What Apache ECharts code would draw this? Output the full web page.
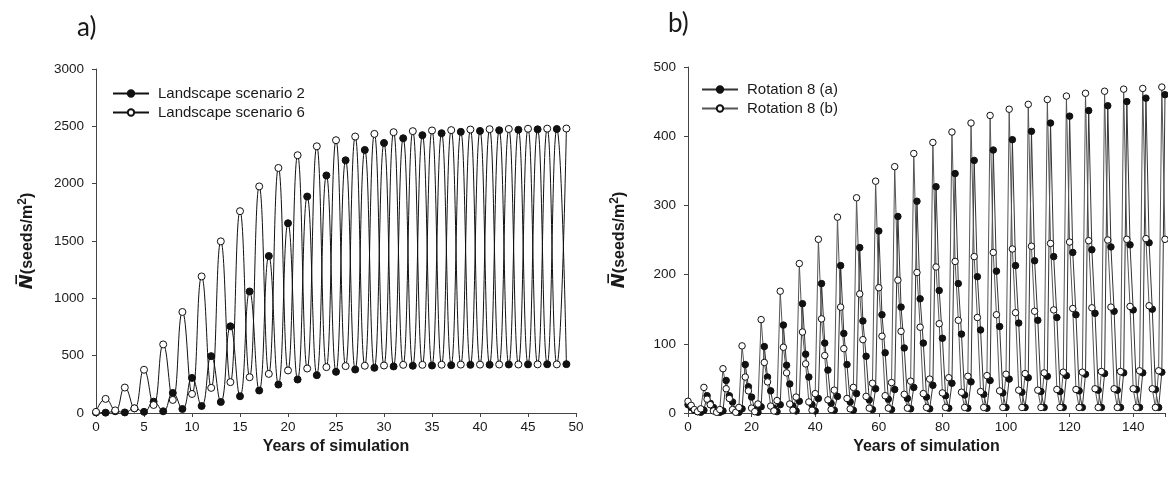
<!DOCTYPE html>
<html><head><meta charset="utf-8">
<script src="https://cdn.jsdelivr.net/npm/echarts/dist/echarts.min.js"></script>
<style>html,body{margin:0;padding:0;background:#fff}#c{width:1168px;height:477px}</style>
</head><body><div id="c"></div>
<script>
// Panel a: years 0..49
const scenario2 = [5, 3, 15, 5, 40, 10, 99, 15, 175, 35, 306, 61, 496, 96, 756, 146, 1060, 196, 1369, 248, 1655, 292, 1888, 330, 2072, 359, 2204, 379, 2294, 394, 2355, 406, 2396, 412, 2423, 414, 2440, 417, 2452, 420, 2460, 421, 2466, 423, 2470, 424, 2474, 425, 2477, 426];
const scenario6 = [10, 123, 23, 222, 41, 377, 70, 598, 114, 881, 166, 1191, 219, 1497, 269, 1760, 312, 1976, 341, 2137, 371, 2248, 388, 2326, 400, 2379, 409, 2411, 412, 2434, 414, 2449, 420, 2458, 420, 2464, 421, 2467, 422, 2472, 422, 2475, 423, 2477, 423, 2479, 424, 2480, 424, 2481];
// Panel b: years 0..150
const rotation8a = [12, 8, 4, 2, 1, 4,
  25, 14, 8, 2, 1, 3,
  47, 25, 16, 4, 1, 6,
  70, 38, 23, 5, 1, 9,
  96, 52, 32, 7, 2, 12,
  127, 69, 42, 10, 3, 17,
  158, 85, 52, 12, 3, 21,
  187, 101, 62, 14, 4, 24,
  213, 115, 70, 16, 4, 28,
  239, 133, 82, 19, 5, 35,
  263, 142, 87, 20, 5, 34,
  284, 153, 94, 21, 6, 37,
  306, 165, 101, 23, 6, 40,
  327, 177, 108, 25, 7, 43,
  346, 187, 114, 26, 7, 45,
  365, 197, 120, 27, 7, 47,
  380, 205, 125, 29, 8, 49,
  395, 213, 130, 30, 8, 51,
  407, 220, 134, 31, 8, 53,
  419, 226, 138, 31, 8, 54,
  429, 232, 142, 32, 8, 56,
  437, 236, 144, 33, 8, 57,
  444, 240, 147, 33, 8, 58,
  450, 243, 149, 34, 8, 58,
  455, 246, 150, 34, 8, 59,
  460];
const rotation8b = [17, 11, 5, 2, 6,
  37, 20, 12, 3, 1, 5,
  64, 35, 21, 5, 1, 8,
  97, 52, 32, 7, 2, 13,
  135, 73, 45, 10, 3, 18,
  176, 95, 58, 13, 4, 23,
  216, 117, 71, 16, 4, 28,
  251, 136, 83, 19, 5, 33,
  283, 153, 93, 21, 6, 37,
  311, 172, 106, 24, 7, 43,
  335, 181, 111, 25, 7, 44,
  356, 192, 118, 27, 7, 46,
  375, 203, 124, 28, 8, 49,
  391, 211, 129, 29, 8, 51,
  406, 219, 134, 30, 8, 53,
  419, 226, 138, 31, 8, 54,
  430, 232, 142, 32, 8, 56,
  439, 237, 145, 33, 8, 57,
  446, 241, 147, 33, 8, 58,
  453, 245, 149, 34, 8, 59,
  458, 247, 151, 34, 8, 59,
  462, 249, 152, 35, 8, 60,
  465, 250, 153, 35, 8, 60,
  468, 251, 154, 35, 8, 61,
  469, 252, 155, 35, 8, 61,
  471, 251];
const legendA = ['Landscape scenario 2', 'Landscape scenario 6'];
const legendB = ['Rotation 8 (a)', 'Rotation 8 (b)'];
const xTitle = 'Years of simulation';

const pairs = arr => arr.map((v, i) => [i, v]);
const FONT = 'Liberation Sans, Arial, sans-serif';
const ink = '#1a1a1a';
const axisCol = '#444';

const yNameText = '{n|N\u0305}{t|(seeds/m}{s|2}{t|)}';
const yNameStyle = {
  color: ink,
  rich: {
    n: {fontFamily: 'DejaVu Sans', fontWeight: 'bold', fontStyle: 'italic', fontSize: 18, color: ink},
    t: {fontFamily: FONT, fontWeight: 'bold', fontSize: 16, color: ink},
    s: {fontFamily: FONT, fontWeight: 'bold', fontSize: 12, color: ink, padding: [0, 0, 9, 0]}
  }
};

function xAxisCfg(idx, max, interval) {
  return {
    type: 'value', gridIndex: idx, min: 0, max: max, interval: interval,
    name: xTitle, nameLocation: 'middle', nameGap: 26,
    nameTextStyle: {fontFamily: FONT, fontWeight: 'bold', fontSize: 16, color: ink},
    axisLine: {show: true, onZero: false, lineStyle: {color: axisCol, width: 1}},
    axisTick: {show: true, inside: false, length: 4, lineStyle: {color: axisCol}},
    axisLabel: {fontFamily: FONT, fontSize: 13.5, color: ink, margin: 7,
      formatter: v => (v % interval === 0 ? String(v) : '')},
    splitLine: {show: false}
  };
}
function yAxisCfg(idx, max, interval) {
  return {
    type: 'value', gridIndex: idx, min: 0, max: max, interval: interval,
    name: yNameText, nameLocation: 'middle', nameGap: 58, nameRotate: 90,
    nameTextStyle: yNameStyle,
    axisLine: {show: true, lineStyle: {color: axisCol, width: 1}},
    axisTick: {show: true, inside: false, length: 4, lineStyle: {color: axisCol}},
    axisLabel: {fontFamily: FONT, fontSize: 13.5, color: ink, margin: 12,
      formatter: v => String(v)},
    splitLine: {show: false}
  };
}
function lineSeries(name, data, idx, filled, smooth, lineColor, size) {
  return {
    type: 'line', name: name, xAxisIndex: idx, yAxisIndex: idx,
    data: pairs(data), smooth: smooth, symbol: 'circle', symbolSize: size,
    showAllSymbol: true, animation: false,
    lineStyle: {color: lineColor, width: 1},
    itemStyle: {color: filled ? '#111' : '#fff', borderColor: '#111', borderWidth: 1, opacity: 1},
    emphasis: {disabled: true}
  };
}
const legendCommon = {
  orient: 'vertical', itemWidth: 36, itemHeight: 8, itemGap: 4,
  textStyle: {fontFamily: FONT, fontSize: 15, color: ink, padding: [0, 0, 0, 4]},
  selectedMode: false
};

const chart = echarts.init(document.getElementById('c'), null, {renderer: 'canvas'});
chart.setOption({
  backgroundColor: '#fff',
  animation: false,
  grid: [
    {left: 96, top: 69, width: 480, height: 344},
    {left: 688, top: 67, width: 477, height: 346}
  ],
  xAxis: [xAxisCfg(0, 50, 5), xAxisCfg(1, 150, 20)],
  yAxis: [yAxisCfg(0, 3000, 500), yAxisCfg(1, 500, 100)],
  legend: [
    Object.assign({}, legendCommon, {data: legendA, left: 107, top: 81}),
    Object.assign({}, legendCommon, {data: legendB, left: 696, top: 77})
  ],
  graphic: [
    {type: 'text', left: 77, top: 15, style: {text: 'a)', fontFamily: 'Lato, Noto Sans, sans-serif', fontSize: 26, fill: ink}},
    {type: 'text', left: 668, top: 11, style: {text: 'b)', fontFamily: 'Lato, Noto Sans, sans-serif', fontSize: 26, fill: ink}}
  ],
  series: [
    lineSeries(legendA[0], scenario2, 0, true, 0.5, '#111', 7),
    lineSeries(legendA[1], scenario6, 0, false, 0.5, '#111', 7),
    lineSeries(legendB[0], rotation8a, 1, true, false, '#333', 6.5),
    lineSeries(legendB[1], rotation8b, 1, false, false, '#555', 6.5)
  ]
});
</script></body></html>
